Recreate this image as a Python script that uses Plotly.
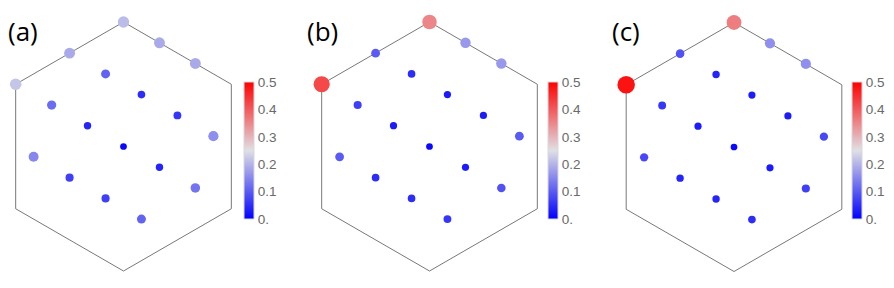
import plotly.graph_objects as go

# k-point positions (Brillouin-zone units, circumradius = 1)
kx = [0.000, 0.289, 0.577, -0.433, -0.144, 0.144, 0.433, 0.722,
      -0.866, -0.577, -0.289, 0.000, 0.289, 0.577,
      -0.722, -0.433, -0.144, 0.144]
ky = [1.000, 0.833, 0.667, 0.750, 0.583, 0.417, 0.250, 0.083,
      0.500, 0.333, 0.167, 0.000, -0.167, -0.333,
      -0.083, -0.250, -0.417, -0.583]

vals_a = [0.21, 0.19, 0.19, 0.19, 0.11, 0.05, 0.06, 0.16,
          0.22, 0.12, 0.04, 0.01, 0.04, 0.13,
          0.15, 0.07, 0.07, 0.11]
vals_b = [0.35, 0.17, 0.17, 0.10, 0.05, 0.03, 0.03, 0.10,
          0.42, 0.07, 0.03, 0.01, 0.03, 0.09,
          0.10, 0.05, 0.05, 0.06]
vals_c = [0.36, 0.16, 0.16, 0.09, 0.04, 0.03, 0.03, 0.08,
          0.48, 0.06, 0.03, 0.01, 0.03, 0.07,
          0.08, 0.04, 0.04, 0.05]

# hexagon (first Brillouin zone) outline
hex_x = [0.0, -0.866, -0.866, 0.0, 0.866, 0.866, 0.0]
hex_y = [1.0, 0.5, -0.5, -1.0, -0.5, 0.5, 1.0]

panel_labels = ["(a)", "(b)", "(c)"]
tick_vals = [0, 0.1, 0.2, 0.3, 0.4, 0.5]
tick_text = ["0.", "0.1", "0.2", "0.3", "0.4", "0.5"]

W, H = 894, 288
S = 124.5  # px per unit
centers = [(123.5, 146.5), (429.5, 146.5), (734.0, 147.0)]
panel_px = [(0, 240), (300, 545), (605, 850)]
cbar_x = [244, 548, 852]
label_x = [6, 305, 610]

colorscale = [[0.0, "rgb(0,0,255)"], [0.5, "rgb(224,224,228)"], [1.0, "rgb(255,0,0)"]]

fig = go.Figure()
layout = dict(width=W, height=H, margin=dict(l=0, r=0, t=0, b=0, autoexpand=False),
              paper_bgcolor="white", plot_bgcolor="white", showlegend=False)

for i, vals in enumerate([vals_a, vals_b, vals_c]):
    sfx = "" if i == 0 else str(i + 1)
    cx, cy = centers[i]
    x0, x1 = panel_px[i]
    xa = dict(domain=[x0 / W, x1 / W], range=[(x0 - cx) / S, (x1 - cx) / S],
              visible=False, fixedrange=True, anchor="y" + sfx)
    ya = dict(domain=[0, 1], range=[-(H - cy) / S, cy / S], visible=False,
              fixedrange=True, anchor="x" + sfx)
    layout["xaxis" + sfx] = xa
    layout["yaxis" + sfx] = ya
    layout["coloraxis" + sfx] = dict(
        colorscale=colorscale, cmin=0, cmax=0.5,
        colorbar=dict(x=cbar_x[i] / W, xanchor="left", xpad=0,
                      y=1 - 150.5 / H, yanchor="middle", ypad=0,
                      len=137, lenmode="pixels", thickness=10, thicknessmode="pixels",
                      outlinewidth=1, outlinecolor="rgb(215,215,225)",
                      tickmode="array", tickvals=tick_vals, ticktext=tick_text,
                      ticks="",
                      tickfont=dict(family="Liberation Sans, Arial", size=13.5,
                                    color="rgb(105,105,105)")))
    fig.add_trace(go.Scatter(x=hex_x, y=hex_y, mode="lines",
                             line=dict(color="rgb(120,120,120)", width=1),
                             xaxis="x" + sfx, yaxis="y" + sfx, hoverinfo="skip"))
    fig.add_trace(go.Scatter(x=kx, y=ky, mode="markers",
                             marker=dict(color=vals, coloraxis="coloraxis" + sfx,
                                         size=[6.5 + 23 * v for v in vals],
                                         opacity=1, line=dict(width=0)),
                             xaxis="x" + sfx, yaxis="y" + sfx))
    fig.add_annotation(text=panel_labels[i], x=label_x[i] / W, y=1 - 31 / H,
                       xref="paper", yref="paper", xanchor="left", yanchor="middle",
                       showarrow=False,
                       font=dict(family="Open Sans", size=26, color="black"))

fig.update_layout(**layout)
fig.write_html("out.html", config={"displayModeBar": False},
               post_script="document.body.style.margin='0px';document.body.style.padding='0px';")
